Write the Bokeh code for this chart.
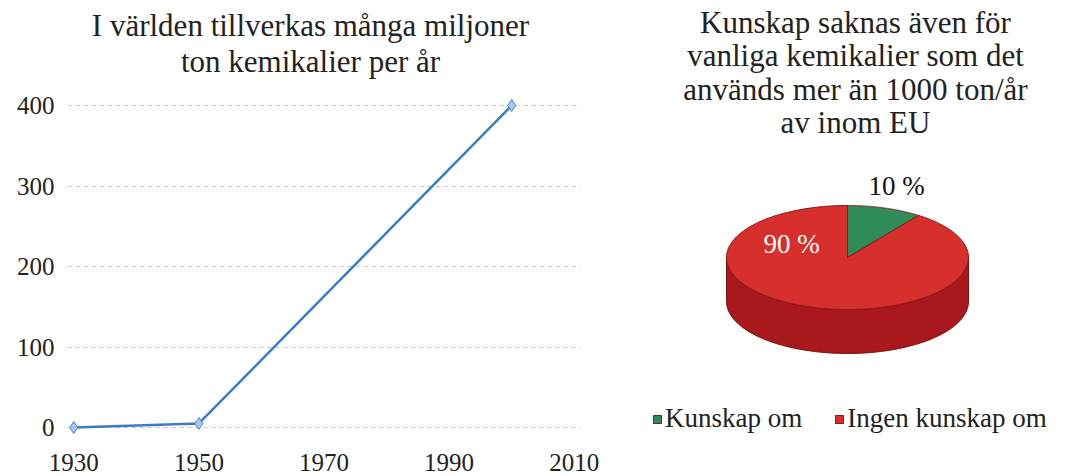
import numpy as np
from bokeh.plotting import figure
from bokeh.layouts import row
from bokeh.models import (Range1d, FixedTicker, Legend, LegendItem, Label)
from bokeh.embed import file_html
from bokeh.resources import INLINE

# ---------------- data ----------------
years = [1930, 1950, 2000]
production = [0, 5, 400]            # miljoner ton per år
x_ticks = [1930, 1950, 1970, 1990, 2010]
y_ticks = [0, 100, 200, 300, 400]
left_title = ["I världen tillverkas många miljoner", "ton kemikalier per år"]

pie_labels = ["Kunskap om", "Ingen kunskap om"]
pie_values = [10, 90]
pie_colors = ["#2f8c58", "#d62f2c"]
right_title = ["Kunskap saknas även för", "vanliga kemikalier som det",
               "används mer än 1000 ton/år", "av inom EU"]

FONT = "'Liberation Serif', 'Times New Roman', serif"
H = 476
BOTTOM = 30                    # shared bottom border, frames start at top
FRAME_H = H - BOTTOM

# ---------------- left: line chart ----------------
LW, ML, MR = 620, 67, 40
y0_px, y400_px = 427.0, 105.0                # pixel rows of 0 and 400
ppu = (y0_px - y400_px) / 400.0              # pixels per unit
y_lo = -(FRAME_H - y0_px) / ppu
y_hi = y0_px / ppu
p = figure(width=LW, height=H, output_backend="svg", toolbar_location=None,
           x_range=Range1d(1929, 2011), y_range=Range1d(y_lo, y_hi),
           min_border_left=ML, min_border_right=MR, min_border_top=0,
           min_border_bottom=BOTTOM)
p.outline_line_color = None


def px_to_x(px):
    return 1929 + (px - ML) * 82.0 / (LW - ML - MR)


def px_to_y(py):
    return y_hi - py / ppu


for line, base in zip(left_title, [25, 61]):
    p.add_layout(Label(x=px_to_x(310), y=px_to_y(base), text=line,
                       text_font=FONT, text_font_size="31px",
                       text_align="center", text_baseline="alphabetic",
                       text_color="#222222"))

p.line(years, production, line_color="#3b7cc6", line_width=2.5)
p.scatter(years, production, marker="diamond", size=12,
          fill_color="#a9c8ee", line_color="#4a86c8", line_width=1)

p.xaxis.ticker = FixedTicker(ticks=x_ticks)
p.yaxis.ticker = FixedTicker(ticks=y_ticks)
for ax in (p.xaxis, p.yaxis):
    ax.axis_line_color = None
    ax.major_tick_line_color = None
    ax.minor_tick_line_color = None
    ax.major_label_text_font = FONT
    ax.major_label_text_font_size = "25px"
    ax.major_label_text_color = "#222222"
p.xaxis.major_label_standoff = 1
p.yaxis.major_label_standoff = 7
p.xgrid.grid_line_color = None
p.ygrid.grid_line_color = "#c4c4c4"
p.ygrid.grid_line_dash = "4 4"
p.ygrid.grid_line_width = 1

# ---------------- right: 3D-like pie ----------------
W = 443
q = figure(width=W, height=H, output_backend="svg", toolbar_location=None,
           x_range=Range1d(0, W), y_range=Range1d(FRAME_H, 0),
           min_border_left=0, min_border_right=0,
           min_border_top=0, min_border_bottom=BOTTOM)
q.axis.visible = False
q.grid.visible = False
q.outline_line_color = None

cx, cy, rx, ry, depth = 227, 257, 121, 52, 44

# side (front half), all red since the green slice sits at the back
th = np.linspace(np.pi, 2 * np.pi, 120)
sx = cx + rx * np.cos(th)
sy = cy - ry * np.sin(th)
side_x = np.concatenate([sx, sx[::-1]])
side_y = np.concatenate([sy, (sy + depth)[::-1]])
q.patch(side_x, side_y, fill_color="#a8181d", line_color="#7a1015", line_width=1)

total = float(sum(pie_values))
start = np.pi / 2
renderers = []
for lab, v, col in zip(pie_labels, pie_values, pie_colors):
    span = 2 * np.pi * v / total
    a = np.linspace(start, start - span, 200)
    xs = np.concatenate([[cx], cx + rx * np.cos(a), [cx]])
    ys = np.concatenate([[cy], cy - ry * np.sin(a), [cy]])
    r = q.patch(xs, ys, fill_color=col, line_color="#8a1a1a", line_width=1)
    renderers.append(r)
    start -= span

# percentage labels
pct = ["%d %%" % round(100 * v / total) for v in pie_values]
q.add_layout(Label(x=276, y=185, text=pct[0], text_font=FONT,
                   text_font_size="27px", text_align="center",
                   text_baseline="alphabetic", text_color="#111111"))
q.add_layout(Label(x=171, y=243, text=pct[1], text_font=FONT,
                   text_font_size="27px", text_align="center",
                   text_baseline="alphabetic", text_color="white"))

# title lines
for line, base in zip(right_title, [22, 55, 89, 122]):
    q.add_layout(Label(x=235, y=base, text=line, text_font=FONT,
                       text_font_size="31px", text_align="center",
                       text_baseline="alphabetic", text_color="#222222"))

legend = Legend(items=[LegendItem(label=l, renderers=[r])
                       for l, r in zip(pie_labels, renderers)],
                orientation="horizontal", location=(32, 12),
                label_text_font=FONT, label_text_font_size="27px",
                label_text_color="#222222", glyph_width=10, glyph_height=10,
                label_standoff=3, spacing=32, padding=0, margin=0,
                border_line_color=None, background_fill_alpha=0)
q.add_layout(legend, "center")

out = row(p, q)
open("out.html", "w").write(file_html(out, INLINE))
